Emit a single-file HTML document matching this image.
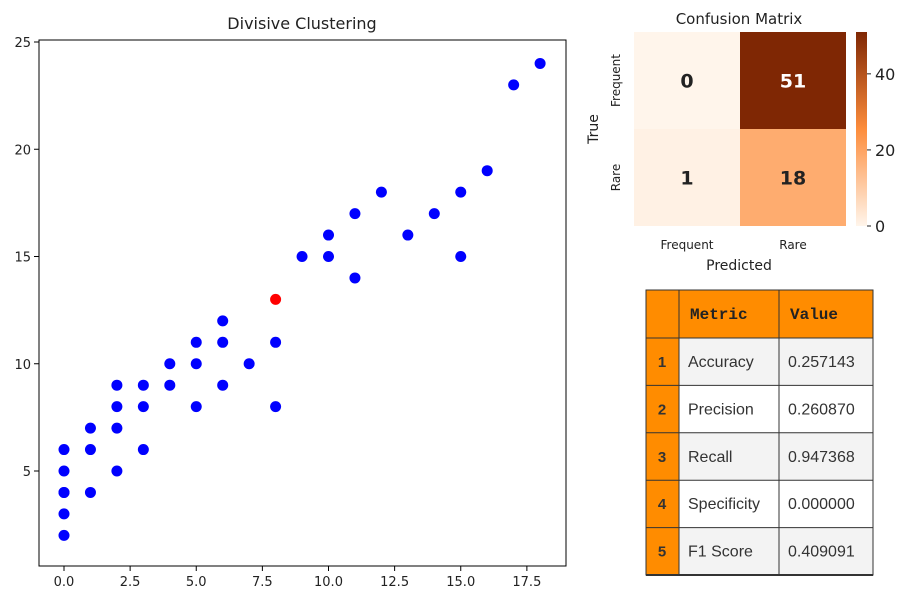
<!DOCTYPE html>
<html><head><meta charset="utf-8"><style>
body{margin:0;background:#fff;width:911px;height:589px;overflow:hidden;font-family:"DejaVu Sans","Liberation Sans",sans-serif}
svg{position:absolute;left:0;top:0}
</style></head><body>
<svg width="911" height="589">
<g id="scatter"></g>
<g id="cm"></g>
<g id="tbl"></g>
</svg>
<script>
const xs=[0,0,0,0,0,0,1,1,1,2,2,2,2,3,3,3,4,4,5,5,5,6,6,6,7,8,8,8,9,10,10,11,11,12,13,14,15,15,16,17,18];
const ys=[2,3,4,4,5,6,4,6,7,5,7,8,9,6,8,9,9,10,8,10,11,9,11,12,10,8,11,13,15,15,16,14,17,18,16,17,15,18,19,23,24];
const highlight=[27];
const xTicks=[0,2.5,5,7.5,10,12.5,15,17.5];
const xTickLabels=["0.0","2.5","5.0","7.5","10.0","12.5","15.0","17.5"];
const yTicks=[5,10,15,20,25];
const cmValues=[[0,51],[1,18]];
const cmLabels=["Frequent","Rare"];
const cbTicks=[0,20,40];
const metricNames=["Accuracy","Precision","Recall","Specificity","F1 Score"];
const metricValues=["0.257143","0.260870","0.947368","0.000000","0.409091"];
const NS="http://www.w3.org/2000/svg";
function mk(p,t,a,txt){const e=document.createElementNS(NS,t);for(const k in a)e.setAttribute(k,a[k]);if(txt!==undefined)e.textContent=txt;p.appendChild(e);return e;}
// scatter
const S=document.getElementById('scatter');
const X=v=>64+v*26.45, Y=v=>471-(v-5)*21.45;
mk(S,'rect',{x:39,y:40,width:527,height:526,fill:'none',stroke:'#000','stroke-width':1});
let t=mk(S,'text',{x:302,y:29,'text-anchor':'middle','font-size':16,fill:'#222'},'Divisive Clustering');

xTicks.forEach((v,i)=>{mk(S,'line',{x1:X(v),x2:X(v),y1:566,y2:571,stroke:'#000'});
 const e=mk(S,'text',{x:X(v),y:586,'text-anchor':'middle','font-size':13,fill:'#222'},xTickLabels[i]);
 });
yTicks.forEach(v=>{mk(S,'line',{x1:34,x2:39,y1:Y(v),y2:Y(v),stroke:'#000'});
 const e=mk(S,'text',{x:31,y:Y(v)+5,'text-anchor':'end','font-size':13,fill:'#222'},String(v));
 });
xs.forEach((x,i)=>{const c=mk(S,'circle',{cx:X(x),cy:Y(ys[i]),r:5.5,fill:highlight.includes(i)?'#ff0000':'#0000ff'});
 });
// confusion matrix
const C=document.getElementById('cm');
const cx0=634,cw=106,cy0=32,ch=97,vmax=51;
function col(v){const f=v/vmax;const a=[255,245,235],m=[253,141,60],b=[127,39,4];
 let r;if(f<0.5){const g=f/0.5;r=a.map((c,i)=>c+(m[i]-c)*g);}else{const g=(f-0.5)/0.5;r=m.map((c,i)=>c+(b[i]-c)*g);}
 return `rgb(${r.map(Math.round).join(',')})`;}
t=mk(C,'text',{x:739,y:24,'text-anchor':'middle','font-size':15,fill:'#222'},'Confusion Matrix');

cmValues.forEach((row,r)=>row.forEach((v,c)=>{
 const rc=mk(C,'rect',{x:cx0+c*cw,y:cy0+r*ch,width:cw,height:ch,fill:col(v)});
 
 mk(C,'text',{x:cx0+c*cw+cw/2,y:cy0+r*ch+ch/2+7,'text-anchor':'middle','font-size':19,'font-weight':'bold',fill:v/vmax>0.6?'#fff':'#222'},String(v));}));
cmLabels.forEach((l,i)=>{mk(C,'text',{x:cx0+i*cw+cw/2,y:249,'text-anchor':'middle','font-size':12,fill:'#222'},l);
 const yy=cy0+i*ch+ch/2;mk(C,'text',{x:620,y:yy,'text-anchor':'middle','font-size':12,fill:'#222',transform:`rotate(-90 620 ${yy})`},l);});
mk(C,'text',{x:739,y:270,'text-anchor':'middle','font-size':14,fill:'#222'},'Predicted');
mk(C,'text',{x:598,y:129,'text-anchor':'middle','font-size':14,fill:'#222',transform:'rotate(-90 598 129)'},'True');
const g=mk(C,'defs',{});const lg=mk(g,'linearGradient',{id:'cbg',x1:0,y1:1,x2:0,y2:0});
[0,0.25,0.5,0.75,1].forEach(f=>mk(lg,'stop',{offset:f,'stop-color':col(f*vmax)}));
const cb=mk(C,'rect',{x:856,y:cy0,width:11,height:2*ch,fill:'url(#cbg)'});

cbTicks.forEach(v=>{const yy=cy0+2*ch-v/vmax*2*ch;mk(C,'line',{x1:867,x2:871,y1:yy,y2:yy,stroke:'#222'});
 mk(C,'text',{x:875,y:yy+6,'font-size':16,fill:'#222'},String(v));});
// table
const T=document.getElementById('tbl');
const tx=[646,679,779,873],hy=290,hh=48,rh=47.4;
mk(T,'rect',{x:646,y:hy,width:227,height:hh,fill:'#ff8c00'});
mk(T,'text',{x:690,y:319,'font-size':16,'font-weight':'bold','font-family':'Liberation Mono,monospace',fill:'#222'},'Metric');
mk(T,'text',{x:790,y:319,'font-size':16,'font-weight':'bold','font-family':'Liberation Mono,monospace',fill:'#222'},'Value');
metricNames.forEach((n,i)=>{const y=hy+hh+i*rh;
 mk(T,'rect',{x:646,y:y,width:33,height:rh,fill:'#ff8c00'});
 mk(T,'rect',{x:679,y:y,width:194,height:rh,fill:i%2==0?'#f3f3f3':'#fff'});
 mk(T,'text',{x:662,y:y+29,'text-anchor':'middle','font-size':15,'font-weight':'bold','font-family':'Liberation Sans,sans-serif',fill:'#333'},String(i+1));
 const a=mk(T,'text',{x:688,y:y+29,'font-size':16,'font-family':'Liberation Sans,sans-serif',fill:'#333'},n);
 
 const b=mk(T,'text',{x:788,y:y+29,'font-size':16,'font-family':'Liberation Sans,sans-serif',fill:'#333'},metricValues[i]);
 
 mk(T,'line',{x1:646,x2:873,y1:y,y2:y,stroke:'#333'});});
mk(T,'line',{x1:646,x2:873,y1:hy+hh+5*rh,y2:hy+hh+5*rh,stroke:'#333','stroke-width':2});
mk(T,'rect',{x:646,y:hy,width:227,height:hh+5*rh,fill:'none',stroke:'#333'});
tx.forEach(x=>mk(T,'line',{x1:x,x2:x,y1:hy,y2:hy+hh+5*rh,stroke:'#333'}));
</script>
</body></html>
